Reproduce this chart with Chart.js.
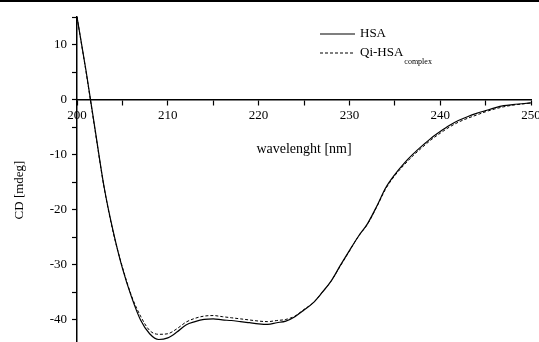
<!DOCTYPE html>
<html>
<head>
<meta charset="utf-8">
<script src="https://cdn.jsdelivr.net/npm/chart.js@4/dist/chart.umd.min.js"></script>
<style>
  html, body { margin: 0; padding: 0; background: #fff; }
  #wrap { position: relative; width: 539px; height: 342px; }
  #topline { position: absolute; left: 0; top: 0; width: 539px; height: 2px; background: #000; }
</style>
</head>
<body>
<div id="wrap">
  <canvas id="c" width="539" height="342"></canvas>
  <div id="topline"></div>
</div>
<script>
const wavelengths = [200,201,202,203,204,205,206,207,208,209,210,211,212,213,214,215,216,217,218,219,220,221,222,223,224,225,226,227,228,229,230,231,232,233,234,235,236,237,238,239,240,241,242,243,244,245,246,247,248,249,250];
const hsa = [15.0,5.2,-5.5,-16.0,-24.0,-30.6,-35.8,-40.0,-42.5,-43.55,-43.25,-42.2,-40.9,-40.3,-39.9,-39.8,-40.0,-40.1,-40.3,-40.5,-40.7,-40.8,-40.5,-40.2,-39.4,-38.2,-36.9,-35.0,-32.9,-30.1,-27.4,-24.8,-22.5,-19.4,-16.0,-13.6,-11.6,-9.9,-8.4,-7.0,-5.8,-4.7,-3.8,-3.1,-2.5,-2.0,-1.5,-1.1,-0.9,-0.75,-0.6];
const qiHsa = [15.0,5.0,-5.7,-16.1,-24.2,-30.4,-35.6,-39.3,-41.9,-42.6,-42.5,-41.6,-40.4,-39.7,-39.3,-39.2,-39.4,-39.6,-39.8,-40.0,-40.2,-40.3,-40.1,-39.9,-39.3,-38.1,-36.9,-35.0,-32.9,-30.2,-27.5,-24.8,-22.6,-19.5,-16.2,-13.8,-11.9,-10.2,-8.7,-7.3,-6.1,-5.0,-4.1,-3.4,-2.8,-2.2,-1.7,-1.3,-1.0,-0.8,-0.6];
const seriesNames = ['HSA', 'Qi-HSA'];
const seriesSubscripts = ['', 'complex'];
const xTicks = [200,205,210,215,220,225,230,235,240,245,250];
const yTicks = [15,10,5,0,-5,-10,-15,-20,-25,-30,-35,-40];
const xTitle = 'wavelenght [nm]';
const yTitle = 'CD [mdeg]';

const FONT = '"Liberation Serif", "Times New Roman", serif';

const toPts = (vals) => wavelengths.map((w, i) => ({x: w, y: vals[i]}));

const customLegend = {
  id: 'customLegend',
  afterDraw(chart) {
    const ctx = chart.ctx;
    ctx.save();
    chart.data.datasets.forEach((ds, i) => {
      const y = 34 + i * 19;
      ctx.beginPath();
      ctx.strokeStyle = '#000';
      ctx.lineWidth = 1.1;
      ctx.setLineDash(ds.borderDash || []);
      ctx.moveTo(320, y);
      ctx.lineTo(355, y);
      ctx.stroke();
      ctx.setLineDash([]);
      ctx.fillStyle = '#000';
      ctx.font = '13px ' + FONT;
      ctx.textBaseline = 'middle';
      ctx.textAlign = 'left';
      ctx.fillText(seriesNames[i], 360, y);
      if (seriesSubscripts[i]) {
        const w = ctx.measureText(seriesNames[i]).width;
        ctx.font = '8px ' + FONT;
        ctx.fillText(seriesSubscripts[i], 360 + w + 1, y + 9);
      }
    });
    // y-axis title
    ctx.translate(20, 190);
    ctx.rotate(-Math.PI / 2);
    ctx.font = '13px ' + FONT;
    ctx.textAlign = 'center';
    ctx.textBaseline = 'middle';
    ctx.fillStyle = '#000';
    ctx.fillText(yTitle, 0, 0);
    ctx.restore();
  }
};

new Chart(document.getElementById('c'), {
  type: 'line',
  data: {
    datasets: [
      { label: seriesNames[0], data: toPts(hsa), borderColor: '#000', borderWidth: 1.2, pointRadius: 0, cubicInterpolationMode: 'monotone', fill: false },
      { label: seriesNames[1], data: toPts(qiHsa), borderColor: '#000', borderWidth: 1.0, borderDash: [3, 2], pointRadius: 0, cubicInterpolationMode: 'monotone', fill: false }
    ]
  },
  options: {
    responsive: false,
    animation: false,
    layout: { padding: { top: 17, right: 8, left: 0, bottom: 0 } },
    plugins: { legend: { display: false }, tooltip: { enabled: false } },
    scales: {
      x: {
        type: 'linear',
        min: 200, max: 250,
        position: { y: 0 },
        afterBuildTicks: (s) => { s.ticks = xTicks.map(v => ({value: v})); },
        afterFit: (s) => { s.paddingLeft = 0; s.paddingRight = 0; },
        ticks: {
          color: '#000', padding: 3, maxRotation: 0, autoSkip: false,
          font: { family: FONT, size: 13 },
          callback: (v) => (v % 10 === 0 ? String(v) : '')
        },
        grid: { drawOnChartArea: false, drawTicks: true, tickLength: 5, color: '#000', tickWidth: 1.2 },
        border: { color: '#000', width: 1.5 },
        title: { display: true, text: xTitle, color: '#000', font: { family: FONT, size: 14 }, padding: { top: 15, bottom: 0 } }
      },
      y: {
        min: -44, max: 15,
        afterBuildTicks: (s) => { s.ticks = yTicks.map(v => ({value: v})); },
        afterFit: (s) => { s.width = 77; s.paddingTop = 0; s.paddingBottom = 0; },
        ticks: {
          color: '#000', padding: 5,
          font: { family: FONT, size: 13 },
          callback: (v) => (v % 10 === 0 ? String(v) : '')
        },
        grid: { drawOnChartArea: false, drawTicks: true, tickLength: 5, color: '#000', tickWidth: 1.2 },
        border: { color: '#000', width: 1.5 }
      }
    }
  },
  plugins: [customLegend]
});
</script>
</body>
</html>
